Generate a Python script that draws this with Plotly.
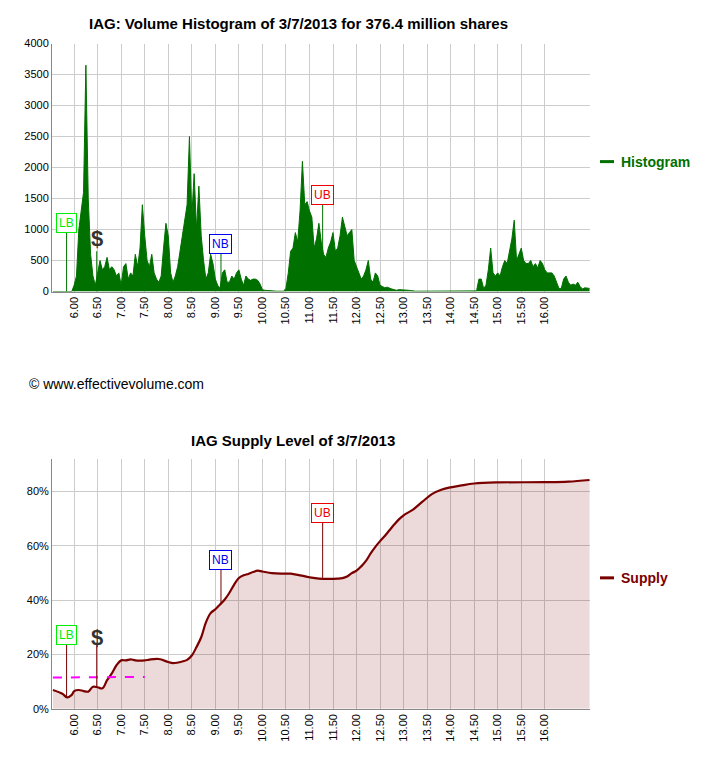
import numpy as np
import plotly.graph_objects as go

hist_x = [round(5.55 + 0.05 * i, 2) for i in range(0, 229)]
hist_vals = ([0]*9 +
 [100, 250, 1000, 1300, 1600, 3650, 1500, 600, 250, 100,
  300, 500, 350, 400, 550, 350, 400, 350, 250, 300,
  100, 400, 450, 200, 300, 250, 600, 400, 700, 1400,
  900, 500, 400, 600, 300, 200, 150, 250, 700, 1100,
  900, 300, 150, 250, 400, 650, 900, 1100, 1400, 2500,
  1200, 1900, 1000, 1700, 900, 500, 200, 300, 600, 450,
  200, 100, 50, 300, 350, 150, 150, 250, 200, 300,
  350, 200, 100, 250, 200, 180, 200, 200, 180, 120,
  30, 20, 15, 10, 10, 10, 5, 5, 5, 5,
  50, 300, 650, 700, 950, 800, 1300, 2100, 1400, 1450,
  1300, 1200, 700, 850, 1100, 800, 600, 550, 700, 800,
  950, 650, 700, 900, 1200, 1050, 900, 950, 1000, 500,
  400, 300, 200, 250, 350, 500, 200, 150, 300, 250,
  100, 80, 60, 70, 50, 40, 30, 20, 30, 30,
  30, 30, 20, 15, 5, 5, 5, 5, 5, 5,
  5, 5, 5, 5, 5, 5, 5, 5, 5, 5,
  5, 5, 5, 5, 5, 5, 5, 5, 5, 5,
  5, 10, 200, 200, 50, 100, 350, 700, 300, 250,
  300, 250, 400, 500, 450, 650, 850, 1150, 500, 600,
  700, 500, 450, 450, 500, 400, 450, 380, 500, 450,
  350, 300, 300, 300, 250, 150, 50, 50, 200, 250,
  150, 100, 120, 100, 150, 80, 40, 60, 50, 50])
hist_x = hist_x[:len(hist_vals)]

sup_x = [5.55, 5.75, 5.85, 5.95, 6.0, 6.1, 6.2, 6.3, 6.4, 6.5, 6.6, 6.7, 6.8, 6.9, 7.0,
         7.1, 7.2, 7.3, 7.5, 7.6, 7.8, 8.0, 8.1, 8.3, 8.4, 8.5, 8.6, 8.7, 8.8, 8.9, 9.0,
         9.1, 9.2, 9.3, 9.4, 9.5, 9.6, 9.7, 9.8, 9.9, 10.0, 10.2, 10.4, 10.6, 10.8, 11.0,
         11.2, 11.4, 11.6, 11.7, 11.8, 11.9, 12.0, 12.1, 12.2, 12.3, 12.4, 12.5, 12.6,
         12.7, 12.8, 12.9, 13.0, 13.2, 13.4, 13.6, 13.8, 14.0, 14.2, 14.5, 15.0, 16.0,
         16.5, 16.95]
sup_vals = [6.9, 5.5, 4.2, 5.1, 6.5, 6.9, 6.5, 6.3, 8.1, 7.9, 7.5, 10.5, 13, 16, 17.8,
            17.8, 18.2, 17.8, 17.8, 18.1, 18.3, 17.2, 16.8, 17.4, 18, 19.6, 22.7, 26.3,
            31.8, 35.2, 36.6, 38.4, 40.2, 42.7, 45.7, 48.1, 49.1, 49.6, 50.3, 50.8, 50.5,
            49.9, 49.7, 49.7, 49.1, 48.4, 47.9, 47.8, 47.9, 48.1, 48.7, 49.9, 50.8, 52.4,
            54.4, 57.2, 59.6, 61.7, 63.6, 65.7, 67.8, 69.7, 71.2, 73.3, 76.2, 79, 80.6,
            81.5, 82.1, 82.9, 83.3, 83.4, 83.6, 84.2]

tick_vals = [6 + 0.5 * i for i in range(21)]
tick_text = ["%.2f" % v for v in tick_vals]

markers = [("LB", 5.84, "#00ee00", 1100, 0, 27, 4.3),
           ("NB", 9.12, "#0000ee", 760, 0, 54.8, 38.5),
           ("UB", 11.28, "#ee0000", 1550, 600, 72, 47.9)]
dollar_x = 6.48
dollar_top = (850, 650, 0)
dollar_bot = (26.3, 23.5, 8.0)
avg_x = [5.55, 7.5]
avg_y = [11.5, 11.7]

green = "#007000"
dred = "#7a0000"
font = "Liberation Sans, Arial, sans-serif"

W, H, OFF = 691, 752, 8
def px(x): return (x - OFF) / W
def py(y): return 1 - (y - OFF) / H

fig = go.Figure()
fig.add_trace(go.Scatter(x=hist_x, y=hist_vals, mode="lines", fill="tozeroy",
                         line=dict(color=green, width=1), fillcolor=green,
                         xaxis="x", yaxis="y", showlegend=False))
fig.add_trace(go.Scatter(x=sup_x, y=sup_vals, mode="lines", fill="tozeroy",
                         line=dict(color=dred, width=2.2, shape="spline"),
                         fillcolor="rgba(128,0,0,0.15)",
                         xaxis="x2", yaxis="y2", showlegend=False))
fig.add_trace(go.Scatter(x=avg_x, y=avg_y, mode="lines",
                         line=dict(color="#ff00ff", width=2, dash="dash"),
                         xaxis="x2", yaxis="y2", showlegend=False))

shapes = []
ann = []
for lab, x, col, tb, tl, bb, bl in markers:
    shapes.append(dict(type="line", xref="x", yref="y", x0=x, x1=x, y0=tl, y1=tb,
                       line=dict(color=green, width=1)))
    shapes.append(dict(type="line", xref="x2", yref="y2", x0=x, x1=x, y0=bl, y1=bb,
                       line=dict(color=dred, width=1)))
    for xr, yr, yy in (("x", "y", tb), ("x2", "y2", bb)):
        ann.append(dict(x=x, y=yy, xref=xr, yref=yr, text=lab, showarrow=False,
                        font=dict(color=col, size=12, family=font), bgcolor="white",
                        bordercolor=col, borderwidth=1, borderpad=2))
shapes.append(dict(type="line", xref="x", yref="y", x0=dollar_x, x1=dollar_x,
                   y0=dollar_top[2], y1=dollar_top[1], line=dict(color=green, width=1)))
shapes.append(dict(type="line", xref="x2", yref="y2", x0=dollar_x, x1=dollar_x,
                   y0=dollar_bot[2], y1=dollar_bot[1], line=dict(color=dred, width=1)))
ann.append(dict(x=dollar_x, y=dollar_top[0], xref="x", yref="y", text="<b>$</b>",
                showarrow=False, font=dict(color="#333333", size=22, family=font)))
ann.append(dict(x=dollar_x, y=dollar_bot[0], xref="x2", yref="y2", text="<b>$</b>",
                showarrow=False, font=dict(color="#333333", size=22, family=font)))

ann += [
    dict(x=px(298), y=py(18), xref="paper", yref="paper", showarrow=False, yanchor="middle",
         text="<b>IAG: Volume Histogram of 3/7/2013 for 376.4 million shares</b>",
         font=dict(size=15, color="black", family=font)),
    dict(x=px(293), y=py(441), xref="paper", yref="paper", showarrow=False, yanchor="middle",
         text="<b>IAG Supply Level of 3/7/2013</b>",
         font=dict(size=15, color="black", family=font)),
    dict(x=px(27), y=py(384), xref="paper", yref="paper", showarrow=False, xanchor="left",
         yanchor="middle",
         text="© www.effectivevolume.com", font=dict(size=14, color="black", family=font)),
    dict(x=px(619), y=py(158), xref="paper", yref="paper", showarrow=False, xanchor="left",
         yanchor="middle",
         text="<b>Histogram</b>", font=dict(size=14, color=green, family=font)),
    dict(x=px(619), y=py(581), xref="paper", yref="paper", showarrow=False, xanchor="left",
         yanchor="middle",
         text="<b>Supply</b>", font=dict(size=14, color=dred, family=font)),
]
shapes += [
    dict(type="line", xref="paper", yref="paper", x0=px(600), x1=px(614),
         y0=py(158), y1=py(158), line=dict(color=green, width=3)),
    dict(type="line", xref="paper", yref="paper", x0=px(600), x1=px(614),
         y0=py(581), y1=py(581), line=dict(color=dred, width=3)),
]

xax = dict(range=[5.53, 16.96], tickvals=tick_vals, ticktext=tick_text, tickangle=-90,
           showgrid=True, gridcolor="#cccccc", zeroline=False, showline=True,
           linecolor="#888888", tickfont=dict(size=11, color="black", family=font),
           ticks="", domain=[px(52), px(590)])
yfont = dict(size=11, color="black", family=font)
fig.update_layout(
    width=W, height=H, margin=dict(l=0, r=0, t=0, b=0),
    plot_bgcolor="white", paper_bgcolor="white",
    xaxis=dict(xax, anchor="y"),
    yaxis=dict(range=[0, 4000], dtick=500, domain=[py(290), py(38)],
               gridcolor="#cccccc", zeroline=False, showline=True, linecolor="#888888",
               tickfont=yfont, anchor="x"),
    xaxis2=dict(xax, anchor="y2"),
    yaxis2=dict(range=[0, 92], tickvals=[0, 20, 40, 60, 80],
                ticktext=["0%", "20%", "40%", "60%", "80%"],
                domain=[py(714), py(460)], gridcolor="#cccccc", zeroline=False,
                showline=True, linecolor="#888888", tickfont=yfont, anchor="x2"),
    shapes=shapes, annotations=ann, showlegend=False,
)
fig.write_html("out.html")
